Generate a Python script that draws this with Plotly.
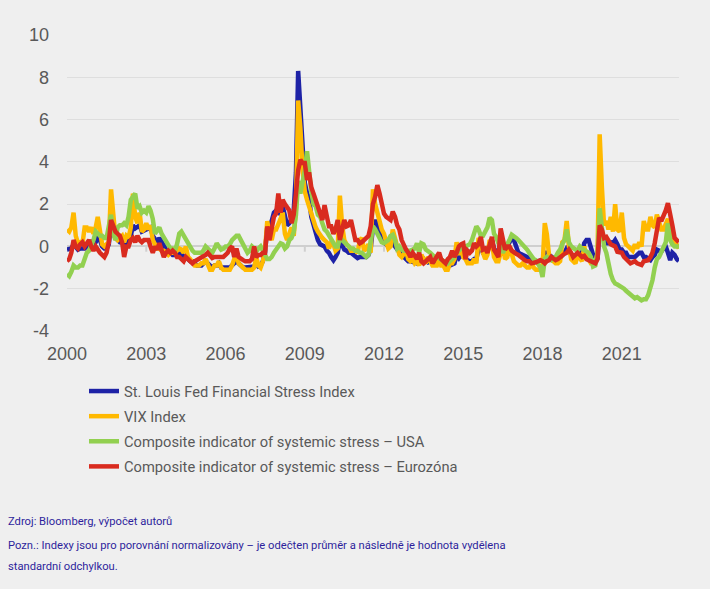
import plotly.graph_objects as go
import pandas as pd

dates = pd.date_range("2000-01-01", periods=279, freq="MS")

stlfsi = [
 -0.15,-0.15,-0.1,0.1,0.0,-0.15,-0.1,-0.1,-0.1,0.0,0.1,0.2,
 0.1,0.2,0.4,0.3,0.0,-0.1,-0.1,0.1,1.0,0.6,0.4,0.3,
 0.2,0.2,0.0,0.1,0.2,0.5,1.0,0.85,0.9,1.0,0.7,0.75,
 0.8,0.85,0.9,0.5,0.3,0.2,0.4,0.2,0.0,-0.2,-0.3,-0.3,
 -0.4,-0.4,-0.3,-0.4,-0.3,-0.5,-0.5,-0.6,-0.7,-0.7,-0.8,-0.9,
 -0.9,-0.9,-0.8,-0.7,-0.8,-0.9,-1.0,-0.9,-0.9,-0.8,-1.0,-1.0,
 -1.0,-1.0,-1.0,-0.9,-0.8,-0.7,-0.8,-0.9,-1.0,-1.0,-1.0,-1.0,
 -1.0,-0.95,-0.8,-0.95,-0.9,-0.7,-0.3,0.9,1.0,1.2,1.6,1.7,
 1.7,1.5,1.9,1.3,1.0,1.1,1.3,1.7,3.5,8.3,6.6,4.1,
 3.0,2.5,2.3,1.4,1.0,0.6,0.3,0.1,0.05,0.0,-0.2,-0.3,
 -0.5,-0.65,-0.5,-0.3,0.3,0.1,-0.15,-0.2,-0.3,-0.3,-0.4,-0.5,
 -0.55,-0.5,-0.5,-0.5,-0.5,-0.4,-0.1,0.9,1.25,1.0,0.8,0.5,
 0.2,0.1,0.0,0.1,0.15,0.0,-0.15,-0.3,-0.4,-0.5,-0.6,-0.7,
 -0.7,-0.75,-0.8,-0.8,-0.7,-0.45,-0.6,-0.7,-0.75,-0.7,-0.8,-0.85,
 -0.85,-0.8,-0.85,-0.9,-0.95,-0.95,-0.9,-0.85,-0.8,-0.4,-0.55,-0.4,
 -0.5,-0.6,-0.65,-0.7,-0.7,-0.6,-0.6,-0.1,0.0,-0.3,-0.35,-0.2,
 0.1,0.3,-0.1,-0.3,-0.4,-0.2,-0.3,-0.2,0.0,0.3,0.4,0.3,
 0.0,-0.3,-0.35,-0.4,-0.5,-0.55,-0.6,-0.6,-0.65,-0.7,-0.7,-0.7,
 -0.65,-0.3,-0.3,-0.4,-0.5,-0.55,-0.6,-0.6,-0.55,-0.4,-0.3,-0.1,
 -0.2,-0.4,-0.45,-0.45,-0.35,-0.3,-0.3,0.15,0.3,0.3,0.0,-0.4,
 -0.5,-0.6,0.8,0.6,0.3,0.15,0.15,0.2,0.15,0.3,0.1,-0.15,
 -0.15,-0.3,-0.3,-0.5,-0.5,-0.5,-0.5,-0.4,-0.3,-0.3,-0.5,-0.5,
 -0.6,-0.65,-0.5,-0.4,-0.15,-0.2,-0.25,-0.1,0.0,-0.3,-0.65,-0.3,
 -0.4,-0.6,-0.7,
]

vix = [
 0.8,0.7,0.9,1.6,0.5,0.15,0.2,0.1,0.9,0.9,0.7,0.9,
 0.6,0.9,1.4,0.6,0.1,0.0,0.1,0.2,2.7,1.2,0.4,0.3,
 0.4,0.5,0.2,0.5,0.4,0.9,2.5,1.4,1.1,1.6,0.7,0.8,
 1.1,0.8,1.0,0.3,0.1,-0.1,-0.1,-0.2,-0.2,-0.3,-0.4,-0.3,
 -0.3,-0.3,-0.2,-0.1,-0.15,-0.3,0.0,-0.5,-0.6,-0.8,-0.9,-0.9,
 -0.9,-0.8,-0.8,-0.6,-0.9,-1.1,-1.1,-0.9,-0.9,-0.7,-1.0,-1.1,
 -1.1,-1.1,-1.1,-0.9,-0.6,-0.3,-0.8,-0.9,-1.0,-1.1,-1.1,-1.1,
 -1.1,-1.0,-0.5,-0.9,-1.0,-0.7,-0.2,1.2,0.5,0.3,0.8,0.8,
 1.0,1.3,1.6,0.6,0.3,0.7,0.9,0.5,1.8,6.9,5.6,3.6,
 2.6,2.2,1.9,1.4,1.2,0.9,0.7,0.5,0.4,0.3,0.2,-0.1,
 0.2,0.1,-0.2,-0.1,2.4,1.0,0.3,0.1,0.0,-0.2,-0.2,-0.2,
 -0.3,0.3,0.4,-0.2,-0.1,0.1,-0.3,2.7,2.0,1.5,1.2,0.8,
 0.6,0.2,-0.1,0.0,0.8,0.4,-0.1,-0.4,-0.5,-0.3,-0.2,-0.6,
 -0.7,-0.6,-0.8,-0.7,-0.9,-0.4,-0.6,-0.8,-0.5,-0.7,-0.9,-0.9,
 -0.9,-0.6,-0.9,-0.9,-1.1,-1.1,-0.8,-0.8,-0.6,0.2,-0.4,-0.1,
 -0.5,-0.6,-0.8,-0.8,-0.8,-0.6,-0.8,0.4,0.2,-0.3,-0.6,-0.4,
 0.3,0.2,-0.5,-0.7,-0.7,-0.3,0.1,-0.6,-0.5,0.0,-0.4,-0.7,
 -0.8,-0.9,-0.9,-0.8,-0.9,-1.0,-1.0,-0.8,-1.0,-1.1,-1.1,-1.1,
 -1.0,1.1,0.6,-0.4,-0.6,-0.7,-0.8,-0.8,-0.7,0.2,0.3,1.2,
 0.0,-0.6,-0.7,-0.8,-0.4,-0.6,-0.7,0.0,-0.5,-0.6,-0.8,-0.8,
 -0.8,-0.3,5.3,2.8,1.0,1.2,0.8,1.4,0.7,2.0,0.8,0.7,
 1.6,0.4,0.1,0.0,-0.1,-0.2,0.1,-0.1,0.2,0.0,1.2,0.8,
 0.8,1.4,1.0,0.9,1.5,1.1,0.8,0.8,1.1,1.3,0.7,0.5,
 0.3,0.0,-0.1,
]

ciss_usa = [
 -1.3,-1.4,-1.2,-0.9,-1.0,-1.0,-0.9,-0.9,-0.6,-0.3,-0.2,0.0,
 0.3,0.7,0.6,0.5,0.5,0.4,0.4,1.0,1.5,0.6,0.3,0.9,
 1.0,1.0,1.1,1.0,1.4,2.2,2.4,2.5,1.8,1.9,1.6,1.7,
 1.6,1.9,1.7,1.3,0.6,0.8,0.9,0.6,0.4,0.2,0.0,-0.1,
 -0.1,-0.2,0.1,0.6,0.7,0.5,0.3,0.2,0.0,-0.2,-0.3,-0.3,
 -0.3,-0.3,-0.2,0.0,-0.1,-0.2,-0.3,-0.1,0.15,0.0,-0.15,-0.1,
 0.0,0.0,0.1,0.3,0.4,0.5,0.5,0.3,0.15,0.0,-0.3,-0.2,
 0.0,-0.1,-0.25,-0.1,0.0,-0.2,-0.4,-0.6,-0.6,-0.5,-0.3,-0.15,
 0.0,0.15,0.1,-0.1,0.0,0.3,0.4,0.7,1.5,3.1,2.5,3.0,
 3.6,4.5,3.4,2.6,2.0,1.9,1.5,1.4,1.1,0.8,0.7,0.5,
 0.3,0.2,0.0,0.0,0.4,0.3,0.2,0.1,0.0,-0.1,-0.1,-0.2,
 -0.2,-0.3,-0.3,-0.4,-0.5,-0.4,0.2,0.95,0.8,0.6,0.3,0.2,
 0.15,0.2,0.3,0.5,0.55,0.3,-0.1,0.0,-0.15,-0.2,-0.2,-0.25,
 -0.2,-0.15,-0.1,0.15,-0.3,0.15,0.1,-0.15,-0.2,-0.3,-0.4,-0.5,
 -0.5,-0.55,-0.65,-0.7,-0.75,-0.8,-0.7,-0.6,-0.5,-0.3,-0.2,-0.1,
 0.0,0.0,0.05,0.1,0.3,0.6,0.95,0.8,0.5,0.5,0.7,0.9,
 1.35,1.25,0.6,0.45,0.15,0.0,-0.3,-0.1,0.0,0.3,0.55,0.5,
 0.4,0.3,0.2,0.1,0.0,-0.15,-0.3,-0.5,-0.6,-0.65,-0.8,-1.0,
 -1.45,-0.6,-0.5,-0.6,-0.65,-0.55,-0.5,-0.3,-0.15,0.1,0.3,0.8,
 0.2,0.0,-0.1,-0.15,-0.2,0.0,-0.1,-0.15,-0.2,-0.3,-0.5,-0.95,
 -0.9,-0.3,1.8,0.6,0.0,-0.3,-0.95,-1.3,-1.6,-1.75,-1.8,-1.85,
 -1.9,-2.0,-2.1,-2.2,-2.3,-2.4,-2.45,-2.4,-2.5,-2.55,-2.5,-2.5,
 -2.3,-2.0,-1.6,-1.0,-0.6,-0.5,-0.3,-0.1,0.2,1.1,0.3,0.1,
 0.0,0.0,0.0,
]

ciss_ea = [
 -0.7,-0.6,-0.3,0.3,0.0,-0.1,0.1,0.2,0.0,0.2,0.3,0.0,
 -0.2,0.0,-0.2,-0.3,-0.4,-0.5,-0.3,0.2,1.25,0.9,0.7,0.6,
 0.5,0.2,-0.5,0.0,0.0,0.3,0.4,0.2,0.5,0.3,0.2,0.3,
 0.3,0.3,0.0,-0.3,0.0,-0.15,0.15,-0.2,-0.5,-0.3,-0.2,-0.3,
 -0.2,-0.3,-0.5,-0.5,-0.6,-0.7,-0.5,-0.6,-0.7,-0.8,-0.7,-0.65,
 -0.6,-0.5,-0.5,-0.4,-0.3,-0.45,-0.55,-0.5,-0.5,-0.45,-0.5,-0.5,
 -0.4,-0.3,-0.1,0.0,-0.5,-0.1,-0.5,-0.6,-0.65,-0.7,-0.7,-0.7,
 -0.6,0.0,-0.5,-0.4,-0.4,-0.3,-0.3,0.95,0.3,1.0,1.4,1.55,
 2.5,1.6,2.2,2.0,1.8,1.7,1.1,1.5,2.5,3.6,4.1,3.95,
 3.95,3.15,3.5,2.8,2.5,2.2,1.9,1.6,1.25,1.95,1.4,0.95,
 0.95,0.6,0.8,1.25,0.3,0.8,1.25,0.95,1.0,1.25,0.6,0.3,
 0.3,0.15,0.2,0.3,0.45,0.5,0.95,2.0,2.35,2.9,2.5,1.9,
 1.55,1.4,1.3,1.25,1.65,1.4,1.0,0.8,0.3,0.0,-0.15,-0.3,
 -0.5,-0.3,-0.5,-0.6,-0.3,-0.7,-0.8,-0.7,-0.6,-0.5,-0.8,-0.6,
 -0.4,-0.3,-0.6,-0.7,-0.8,-0.6,-0.5,-0.2,-0.5,-0.3,0.0,0.1,
 0.15,-0.6,-0.2,-0.3,-0.2,0.15,0.0,0.1,0.45,-0.15,-0.1,-0.3,
 0.1,0.45,-0.15,-0.3,-0.5,0.85,0.2,-0.15,0.0,0.0,-0.2,-0.3,
 -0.35,-0.4,-0.5,-0.6,-0.65,-0.7,-0.7,-0.8,-0.8,-0.75,-0.7,-0.65,
 -0.7,-0.8,-0.7,-0.65,-0.5,-0.6,-0.65,-0.6,-0.5,-0.4,-0.35,-0.3,
 -0.15,-0.3,-0.5,-0.4,-0.3,-0.4,-0.5,-0.45,-0.6,-0.65,-0.7,-0.8,
 -0.8,-0.6,1.0,0.8,0.4,0.45,0.3,0.1,0.05,0.0,-0.25,-0.3,
 -0.3,-0.5,-0.6,-0.7,-0.8,-0.75,-0.7,-0.8,-0.85,-0.88,-0.7,-0.65,
 -0.65,-0.5,-0.3,0.15,0.8,1.35,1.2,1.4,1.7,2.05,1.6,1.0,
 0.4,0.3,0.2,
]

series_names = [
    "St. Louis Fed Financial Stress Index",
    "VIX Index",
    "Composite indicator of systemic stress – USA",
    "Composite indicator of systemic stress – Eurozóna",
]
series_values = [stlfsi, vix, ciss_usa, ciss_ea]
series_colors = ["#1e22a6", "#ffb900", "#92d050", "#d92b1f"]

year_ticks = ["2000", "2003", "2006", "2009", "2012", "2015", "2018", "2021"]
y_ticks = [-4, -2, 0, 2, 4, 6, 8, 10]

source_lines = [
    "Zdroj: Bloomberg, výpočet autorů",
    "Pozn.: Indexy jsou pro porovnání normalizovány – je odečten průměr a následně je hodnota vydělena",
    "standardní odchylkou.",
]

TXT = "Roboto, Liberation Sans, Arial, sans-serif"
BASE = "Liberation Sans, Arial, sans-serif"

fig = go.Figure()
for i, (name, vals, col) in enumerate(zip(series_names, series_values, series_colors)):
    fig.add_trace(go.Scatter(
        x=dates, y=vals, name=name, mode="lines", legendgroup=f"g{i}",
        line=dict(color=col, width=4.5),
    ))

# small tick marks on the zero line at the labelled years
for yr in year_ticks:
    fig.add_shape(type="line", xref="x", yref="y", layer="below",
                  x0=yr + "-01-01", x1=yr + "-01-01", y0=0, y1=-0.25,
                  line=dict(color="#cfcfcf", width=2))

xrange = ["2000-01-01", "2023-03-03"]
W, H = 710, 589
ml, mr, mt, mb = 67, 31, 35, 258
pw = W - ml - mr
ph = H - mt - mb

fig.update_layout(
    width=W, height=H,
    margin=dict(l=ml, r=mr, t=mt, b=mb),
    paper_bgcolor="#efefef", plot_bgcolor="#efefef",
    showlegend=True,
    xaxis=dict(
        range=xrange, type="date",
        tickvals=[y + "-01-01" for y in year_ticks], ticktext=year_ticks,
        showgrid=False, zeroline=False, showline=False, ticks="",
        tickfont=dict(family=BASE, size=18, color="#595959"),
        ticklabelstandoff=10,
    ),
    yaxis=dict(
        range=[-4, 10], tickvals=y_ticks, ticktext=[str(v) for v in y_ticks],
        showgrid=True, gridcolor="#dedede", gridwidth=1,
        zeroline=True, zerolinecolor="#cfcfcf", zerolinewidth=2,
        showline=False, ticks="",
        tickfont=dict(family=BASE, size=18, color="#595959"),
        ticklabelstandoff=17,
    ),
    legend=dict(
        x=(84 - ml) / pw, xanchor="left",
        y=(H - mb - 375) / ph, yanchor="top",
        bgcolor="rgba(0,0,0,0)",
        font=dict(family=TXT, size=14.7, color="#595959"),
        tracegroupgap=3, itemwidth=30,
    ),
)

ys = [521.5, 545, 566]
for txt, py in zip(source_lines, ys):
    fig.add_annotation(
        text=txt, xref="paper", yref="paper",
        x=(6 - ml) / pw, y=(H - mb - py) / ph,
        xanchor="left", yanchor="middle", showarrow=False,
        font=dict(family=TXT, size=11.2, color="#2e1f9c"),
    )

fig.write_html("out.html", config={"displayModeBar": False},
               post_script="document.body.style.margin='0px';")
